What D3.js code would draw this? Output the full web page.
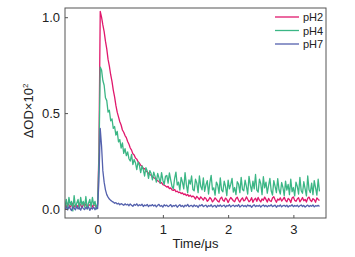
<!DOCTYPE html>
<html>
<head>
<meta charset="utf-8">
<script src="https://cdn.jsdelivr.net/npm/d3@7"></script>
<style>
  body { margin: 0; background: #fff; }
  text { font-family: "Liberation Sans", Arial, sans-serif; fill: #222; }
</style>
</head>
<body>
<div id="chart"></div>
<script>
// sampling grid of the traces (µs)
var tStart = -0.5, tStep = 0.02;

var seriesNames = ["pH2", "pH4", "pH7"];
var seriesColors = ["#e0186c", "#3bb685", "#5461ad"];

var pH2 = [
  0.02,0.01,0.03,0.02,0.01,0.02,0.03,0.01,0.02,0.02,0.01,0.03,0.02,0.01,0.02,0.03,0.02,0.01,0.02,0.02,0.03,0.01,0.02,0.02,0.01,0.02,
  0.3, 1.03,
  1.00,0.96,0.925,0.875,0.835,0.78,0.745,0.70,0.665,0.62,
  0.585,0.54,0.505,0.48,0.455,0.438,0.412,0.40,0.383,0.372,
  0.352,0.338,0.318,0.307,0.288,0.282,0.266,0.26,0.246,0.24,
  0.228,0.224,0.212,0.21,0.198,0.194,0.186,0.18,0.176,0.17,
  0.163,0.16,0.152,0.147,0.143,0.135,0.138,0.127,0.125,0.12,
  0.114,0.118,0.106,0.11,0.1,0.097,0.102,0.09,0.093,0.085,
  0.088,0.08,0.084,0.075,0.079,0.07,0.076,0.066,0.072,0.063,
  0.068,0.062,0.052,0.066,0.058,0.049,0.063,0.055,0.046,0.06,
  0.055,0.04,0.047,0.06,0.052,0.037,0.045,0.058,0.05,0.041,
  0.036,0.054,0.062,0.046,0.04,0.057,0.05,0.034,0.048,0.06,
  0.052,0.043,0.038,0.055,0.061,0.045,0.036,0.05,0.058,0.042,
  0.047,0.063,0.051,0.038,0.044,0.059,0.035,0.049,0.056,0.04,
  0.06,0.046,0.037,0.053,0.045,0.062,0.05,0.036,0.055,0.043,
  0.039,0.057,0.064,0.048,0.035,0.052,0.046,0.058,0.041,0.05,
  0.061,0.044,0.038,0.055,0.049,0.034,0.057,0.063,0.045,0.04,
  0.052,0.059,0.037,0.047,0.06,0.043,0.05,0.036,0.056,0.062,
  0.045,0.039,0.054,0.048,0.035,0.058,0.05,0.044
];

var pH4 = [
  0.01,0.05,0.0,0.06,0.02,0.04,-0.01,0.07,0.01,0.03,0.05,0.0,0.06,0.02,0.04,0.01,0.065,0.0,0.03,0.05,0.01,0.06,0.02,0.04,0.0,0.03,
  0.25, 0.74,
  0.725,0.67,0.645,0.58,0.565,0.505,0.515,0.46,0.47,0.42,
  0.43,0.385,0.405,0.35,0.362,0.318,0.345,0.29,0.315,0.278,
  0.298,0.262,0.25,0.285,0.232,0.258,0.24,0.205,0.245,0.228,
  0.19,0.225,0.205,0.172,0.215,0.198,0.16,0.2,0.185,0.152,
  0.192,0.17,0.14,0.185,0.162,0.135,0.19,0.15,0.128,0.17,
  0.175,0.135,0.188,0.152,0.118,0.105,0.16,0.192,0.125,0.14,
  0.098,0.165,0.14,0.105,0.19,0.128,0.085,0.152,0.13,0.172,
  0.102,0.095,0.155,0.135,0.085,0.172,0.118,0.1,0.162,0.092,
  0.126,0.148,0.078,0.138,0.175,0.1,0.11,0.072,0.14,0.125,
  0.082,0.162,0.098,0.09,0.145,0.118,0.07,0.15,0.105,0.128,
  0.16,0.088,0.112,0.075,0.142,0.13,0.085,0.165,0.102,0.095,
  0.15,0.118,0.078,0.17,0.125,0.092,0.145,0.105,0.18,0.098,
  0.088,0.155,0.132,0.075,0.168,0.11,0.14,0.082,0.122,0.16,
  0.095,0.072,0.148,0.118,0.085,0.158,0.1,0.078,0.138,0.112,
  0.07,0.145,0.098,0.128,0.075,0.155,0.09,0.112,0.068,0.14,
  0.118,0.078,0.165,0.095,0.082,0.142,0.105,0.068,0.172,0.1,
  0.085,0.135,0.075,0.148,0.11,0.072,0.155,0.092
];

var pH7 = [
  0.0,0.01,-0.005,0.012,0.002,-0.008,0.01,0.004,-0.004,0.013,0.0,0.008,-0.006,0.011,0.003,-0.003,0.009,0.001,0.012,-0.007,0.006,0.0,0.01,-0.004,0.007,0.002,
  0.15,0.42,0.33,0.2,0.14,0.1,0.075,0.062,0.052,0.045,0.04,
  0.036,0.03,0.033,0.026,0.03,0.022,0.028,0.024,0.019,0.027,0.021,
  0.025,0.017,0.026,0.02,0.014,0.024,0.019,0.027,0.016,0.022,
  0.018,0.025,0.013,0.021,0.017,0.024,0.012,0.02,0.016,0.023,
  0.015,0.021,0.011,0.019,0.024,0.014,0.018,0.01,0.022,0.016,
  0.02,0.012,0.017,0.023,0.011,0.018,0.015,0.021,0.009,0.017,
  0.022,0.013,0.018,0.01,0.02,0.015,0.024,0.012,0.017,0.019,
  0.011,0.021,0.014,0.018,0.008,0.02,0.016,0.023,0.012,0.017,
  0.02,0.01,0.018,0.014,0.022,0.011,0.016,0.019,0.009,0.02,
  0.014,0.021,0.012,0.017,0.02,0.01,0.018,0.015,0.022,0.011,
  0.017,0.02,0.012,0.019,0.014,0.023,0.01,0.016,0.02,0.013,
  0.018,0.011,0.021,0.015,0.019,0.009,0.017,0.022,0.012,0.018,
  0.014,0.02,0.01,0.017,0.021,0.013,0.019,0.011,0.018,0.015,
  0.022,0.012,0.016,0.02,0.009,0.018,0.014,0.021,0.011,0.017,
  0.019,0.013,0.02,0.01,0.017,0.015,0.022,0.012,0.018,0.014,
  0.02,0.011,0.017,0.021,0.013,0.019,0.01,0.016,0.02,0.012,
  0.018,0.014,0.021,0.011,0.017,0.015,0.019,0.013
];

var xTicks = [0, 1, 2, 3];
var yTicks = [0.0, 0.5, 1.0];

var margin = {top: 8, right: 29, bottom: 39, left: 65},
    width = 355 - margin.left - margin.right,
    height = 257 - margin.top - margin.bottom;

var svg = d3.select("#chart").append("svg")
    .attr("width", 355)
    .attr("height", 257);

var g = svg.append("g")
    .attr("transform", "translate(" + margin.left + "," + margin.top + ")");

var x = d3.scaleLinear().domain([-0.5, 3.5]).range([0, width]);
var y = d3.scaleLinear().domain([-0.047, 1.048]).range([height, 0]);

g.append("defs").append("clipPath").attr("id", "clip")
  .append("rect").attr("width", width).attr("height", height);

var line = d3.line()
    .x(function(d, i) { return x(tStart + i * tStep); })
    .y(function(d) { return y(d); });

// draw order: pH2 under pH4, pH7 on top
var traces = [pH2, pH4, pH7];
var plot = g.append("g").attr("clip-path", "url(#clip)");
traces.forEach(function(vals, k) {
  plot.append("path")
      .datum(vals)
      .attr("d", line)
      .attr("fill", "none")
      .attr("stroke", seriesColors[k])
      .attr("stroke-width", 1.3)
      .attr("stroke-linejoin", "round");
});

// axes with inward ticks
var xAxis = g.append("g")
    .attr("transform", "translate(0," + height + ")")
    .call(d3.axisBottom(x).tickValues(xTicks).tickSizeInner(-3).tickSizeOuter(0).tickPadding(7).tickFormat(d3.format("d")));
var yAxis = g.append("g")
    .call(d3.axisLeft(y).tickValues(yTicks).tickSizeInner(-3).tickSizeOuter(0).tickPadding(5).tickFormat(d3.format(".1f")));

[xAxis, yAxis].forEach(function(a) {
  a.select(".domain").remove();
  a.selectAll("line").attr("stroke", "#555");
  a.selectAll("text").style("font-size", "13px").attr("fill", "#222")
   .style("font-family", "'Liberation Sans', Arial, sans-serif");
});

g.append("rect")
    .attr("width", width)
    .attr("height", height)
    .attr("fill", "none")
    .attr("stroke", "#555")
    .attr("stroke-width", 1);

// axis titles
svg.append("text")
    .attr("x", margin.left + x(1.5))
    .attr("y", 248)
    .attr("text-anchor", "middle")
    .style("font-size", "13px")
    .text("Time/μs");

var yt = svg.append("text")
    .attr("transform", "translate(33," + 111 + ") rotate(-90)")
    .attr("text-anchor", "middle")
    .style("font-size", "13px");
yt.append("tspan").text("ΔOD×10");
yt.append("tspan").attr("dy", -5).style("font-size", "8px").text("2");

// legend
var legend = g.append("g").attr("transform", "translate(210,0)");
seriesNames.forEach(function(name, k) {
  var ly = 9 + k * 13.5;
  legend.append("line")
      .attr("x1", 0).attr("x2", 24)
      .attr("y1", ly).attr("y2", ly)
      .attr("stroke", seriesColors[k])
      .attr("stroke-width", 1.3);
  legend.append("text")
      .attr("x", 28).attr("y", ly + 4)
      .style("font-size", "11px")
      .text(name);
});
</script>
</body>
</html>
